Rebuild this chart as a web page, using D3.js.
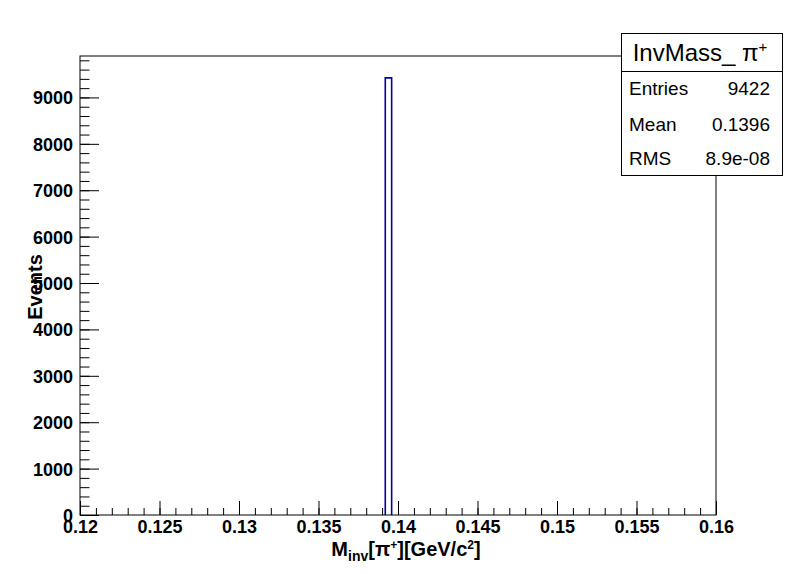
<!DOCTYPE html>
<html>
<head>
<meta charset="utf-8">
<script src="https://cdn.jsdelivr.net/npm/d3@7"></script>
<style>
  html, body { margin: 0; padding: 0; background: #fff; }
  svg { display: block; }
  text { font-family: "Liberation Sans", Arial, Helvetica, sans-serif; }
</style>
</head>
<body>
<div id="chart"></div>
<script>
// ---- data ----
const xDomain = [0.12, 0.16];
const yMax = 9893; // 1.05 * max bin
const binLow = [0.1392];
const binHigh = [0.1396];
const binCount = [9422];
const xTickValues = [0.12, 0.125, 0.13, 0.135, 0.14, 0.145, 0.15, 0.155, 0.16];
const xTickLabels = ["0.12", "0.125", "0.13", "0.135", "0.14", "0.145", "0.15", "0.155", "0.16"];
const yTickValues = [0, 1000, 2000, 3000, 4000, 5000, 6000, 7000, 8000, 9000];
const yTickLabels = ["0", "1000", "2000", "3000", "4000", "5000", "6000", "7000", "8000", "9000"];
const statsTitle = "InvMass_ π";
const statsNames = ["Entries", "Mean", "RMS"];
const statsValues = ["9422", "0.1396", "8.9e-08"];

// ---- layout ----
const W = 796, H = 574;
const L = 80, R = 716, T = 56, B = 515;

const svg = d3.select("#chart").append("svg").attr("width", W).attr("height", H);
svg.append("rect").attr("width", W).attr("height", H).attr("fill", "#fff");

const x = d3.scaleLinear().domain(xDomain).range([L, R]);
const y = d3.scaleLinear().domain([0, yMax]).range([B, T]);

// histogram outline
const hist = svg.append("g");
binCount.forEach((c, i) => {
  const p = d3.path();
  p.moveTo(x(binLow[i]), y(0));
  p.lineTo(x(binLow[i]), y(c));
  p.lineTo(x(binHigh[i]), y(c));
  p.lineTo(x(binHigh[i]), y(0));
  hist.append("path").attr("d", p.toString())
    .attr("fill", "none").attr("stroke", "#0000a8").attr("stroke-width", 1.6);
});

// frame
svg.append("rect").attr("x", L).attr("y", T).attr("width", R - L).attr("height", B - T)
  .attr("fill", "none").attr("stroke", "#000").attr("stroke-width", 1);

// x axis: minor ticks
const xMinor = d3.ticks(xDomain[0], xDomain[1], 40);
svg.append("g").attr("transform", `translate(0,${B})`)
  .call(d3.axisBottom(x).tickValues(xMinor).tickSize(-7).tickFormat(""))
  .call(g => g.select(".domain").remove());
// x axis: major ticks + labels
svg.append("g").attr("transform", `translate(0,${B})`)
  .call(d3.axisBottom(x).tickValues(xTickValues).tickSize(-14).tickPadding(5)
    .tickFormat((d, i) => xTickLabels[i]))
  .call(g => g.select(".domain").remove())
  .call(g => g.selectAll("text").attr("font-size", 18).attr("font-weight", "bold")
    .attr("fill", "#000").attr("font-family", "Liberation Sans, Arial, sans-serif"));

// y axis: minor ticks
const yMinor = d3.range(0, yMax, 200);
svg.append("g").attr("transform", `translate(${L},0)`)
  .call(d3.axisLeft(y).tickValues(yMinor).tickSize(-9.5).tickFormat(""))
  .call(g => g.select(".domain").remove());
svg.append("g").attr("transform", `translate(${L},0)`)
  .call(d3.axisLeft(y).tickValues(yTickValues).tickSize(-19).tickPadding(7)
    .tickFormat((d, i) => yTickLabels[i]))
  .call(g => g.select(".domain").remove())
  .call(g => g.selectAll("text").attr("font-size", 18).attr("font-weight", "bold")
    .attr("fill", "#000").attr("dy", "0.36em").attr("font-family", "Liberation Sans, Arial, sans-serif"));

svg.selectAll(".tick line").attr("stroke", "#000");

// x title
const xt = svg.append("text").attr("x", 406).attr("y", 556)
  .attr("text-anchor", "middle").attr("font-size", 20).attr("font-weight", "bold");
xt.append("tspan").text("M");
xt.append("tspan").attr("font-size", 14).attr("dy", 5).text("inv");
xt.append("tspan").attr("dy", -5).text("[π");
xt.append("tspan").attr("font-size", 12).attr("dy", -7).text("+");
xt.append("tspan").attr("dy", 7).text("][GeV/c");
xt.append("tspan").attr("font-size", 12).attr("dy", -7).text("2");
xt.append("tspan").attr("dy", 7).text("]");

// y title
svg.append("text").attr("transform", "translate(41.5,287) rotate(-90)")
  .attr("text-anchor", "middle").attr("font-size", 20).attr("font-weight", "bold")
  .text("Events");

// stats box
const bx = 621.5, by = 33.5, bw = 161, bh = 142, sep = 71.5;
const st = svg.append("g");
st.append("rect").attr("x", bx).attr("y", by).attr("width", bw).attr("height", bh)
  .attr("fill", "#fff").attr("stroke", "#000").attr("stroke-width", 1);
st.append("line").attr("x1", bx).attr("x2", bx + bw).attr("y1", sep).attr("y2", sep)
  .attr("stroke", "#000");
const tt = st.append("text").attr("x", bx + bw / 2 - 2).attr("y", 61)
  .attr("text-anchor", "middle").attr("font-size", 24);
tt.append("tspan").text(statsTitle);
tt.append("tspan").attr("font-size", 15).attr("dy", -9).text("+");
const rowY = [95, 130.5, 164.5];
statsNames.forEach((n, i) => {
  st.append("text").attr("x", 629).attr("y", rowY[i]).attr("font-size", 19).text(n);
  st.append("text").attr("x", 770).attr("y", rowY[i]).attr("font-size", 19)
    .attr("text-anchor", "end").text(statsValues[i]);
});
</script>
</body>
</html>
